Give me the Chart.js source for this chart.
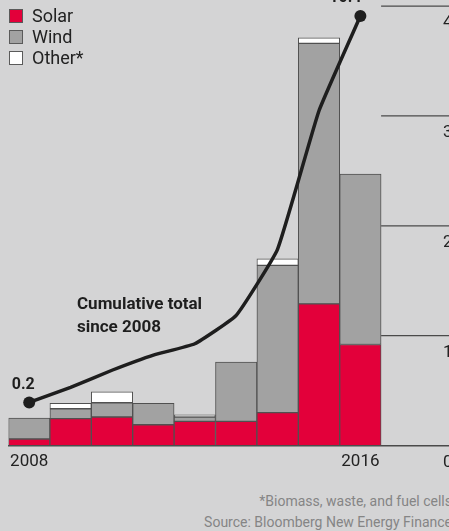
<!DOCTYPE html>
<html>
<head>
<meta charset="utf-8">
<script src="https://cdn.jsdelivr.net/npm/chart.js@4/dist/chart.umd.min.js"></script>
<style>
    html, body {
        margin: 0;
        padding: 0;
        width: 449px;
        height: 531px;
        overflow: hidden;
        background: #d4d4d5;
        font-family: Roboto, 'Liberation Sans', sans-serif;
    }
    #wrap {
        position: absolute;
        left: 0;
        top: 0;
        width: 480px;
        height: 480px;
    }
    #legend {
        position: absolute;
        left: 9px;
        top: 9px;
        font-size: 18px;
        color: #222;
    }
    .item {
        height: 21px;
        display: flex;
        align-items: flex-start;
    }
    .box {
        width: 14px;
        height: 14px;
        box-sizing: border-box;
        border: 1px solid #5a5a5a;
        margin-right: 9px;
    }
    .item span {
        line-height: 14px;
    }
    #notes {
        position: absolute;
        left: 0;
        top: 491px;
        width: 452px;
        text-align: right;
        font-size: 14px;
        line-height: 21px;
        color: #858585;
        white-space: nowrap;
    }
</style>
</head>
<body>
<div id="wrap"><canvas id="chart"></canvas></div>
<div id="legend"></div>
<div id="notes">*Biomass, waste, and fuel cells<br>Source: Bloomberg New Energy Finance</div>

<script>
(function() {
    'use strict';

    // Annual additions per year (bars, right scale)
    const years = ['2008', '2009', '2010', '2011', '2012', '2013', '2014', '2015', '2016'];
    const solar = [0.06, 0.245, 0.26, 0.19, 0.22, 0.22, 0.30, 1.29, 0.92];
    const wind = [0.19, 0.09, 0.13, 0.195, 0.04, 0.54, 1.34, 2.37, 1.55];
    const other = [0, 0.05, 0.10, 0, 0.02, 0, 0.06, 0.05, 0];

    // Running total since 2008 (line, its own hidden scale)
    const cumulative = [0.2, 0.6, 1.05, 1.45, 1.75, 2.5, 4.25, 7.9, 10.4];

    const tickYears = ['2008', '2016'];
    const rightTicks = [0, 1, 2, 3, 4];

    const RED = '#e3003a';
    const GRAY = '#a2a2a2';
    const EDGE = '#505050';
    const INK = '#1e1e1e';
    const FONT = "Roboto, 'Liberation Sans', sans-serif";

    // Two blank slots to the right of the bars hold the scale ladder
    const labels = years.concat(['', '']);

    function barSet(label, data, color) {
        return {
            type: 'bar',
            label: label,
            data: data,
            backgroundColor: color,
            borderColor: EDGE,
            borderWidth: 1,
            borderSkipped: false,
            barPercentage: 1,
            categoryPercentage: 1,
            yAxisID: 'y',
            order: 1
        };
    }

    // Legend built as plain HTML in the top-left corner
    const legend = document.getElementById('legend');
    [['Solar', RED], ['Wind', GRAY], ['Other*', '#ffffff']].forEach(function(entry) {
        const row = document.createElement('div');
        row.className = 'item';
        row.innerHTML = '<div class="box" style="background:' + entry[1] + '"></div><span>' + entry[0] + '</span>';
        legend.appendChild(row);
    });

    // Right-hand gridlines and their numbers, drawn only past the last bar
    const ladderPlugin = {
        id: 'ladder',
        beforeDatasetsDraw(chart) {
            const ctx = chart.ctx;
            const x = chart.scales.x;
            const y = chart.scales.y;
            const left = x.getPixelForValue(years.length - 1) + x.width / labels.length / 2;
            ctx.save();
            ctx.strokeStyle = '#4a4a4a';
            ctx.lineWidth = 1.2;
            ctx.fillStyle = '#222';
            ctx.font = '17px ' + FONT;
            ctx.textAlign = 'left';
            ctx.textBaseline = 'middle';
            rightTicks.forEach(function(t) {
                const py = y.getPixelForValue(t);
                if (t > 0) {
                    ctx.beginPath();
                    ctx.moveTo(left, py);
                    ctx.lineTo(chart.width, py);
                    ctx.stroke();
                }
                ctx.fillText(String(t), 443, py + 17);
            });
            ctx.restore();
        },
        afterDatasetsDraw(chart) {
            const ctx = chart.ctx;
            const meta = chart.getDatasetMeta(3);
            const first = meta.data[0];
            const last = meta.data[meta.data.length - 1];
            ctx.save();
            ctx.fillStyle = INK;
            ctx.textAlign = 'center';
            ctx.textBaseline = 'middle';
            ctx.font = 'bold 16px ' + FONT;
            ctx.fillText(cumulative[0].toFixed(1), first.x - 6, first.y - 17);
            ctx.fillText(cumulative[cumulative.length - 1].toFixed(1), last.x - 15, last.y - 18);
            ctx.textAlign = 'left';
            ctx.textBaseline = 'alphabetic';
            ctx.font = 'bold 17px ' + FONT;
            ctx.fillText('Cumulative total', 77, 309);
            ctx.fillText('since 2008', 77, 332);
            ctx.restore();
        }
    };

    const lastIndex = cumulative.length - 1;

    new Chart(document.getElementById('chart'), {
        data: {
            labels: labels,
            datasets: [
                barSet('Solar', solar, RED),
                barSet('Wind', wind, GRAY),
                barSet('Other*', other, '#ffffff'),
                {
                    type: 'line',
                    label: 'Cumulative total since 2008',
                    data: cumulative,
                    borderColor: INK,
                    borderWidth: 3.5,
                    tension: 0.12,
                    pointRadius: function(c) { return (c.dataIndex === 0 || c.dataIndex === lastIndex) ? 6 : 0; },
                    pointBackgroundColor: INK,
                    pointBorderWidth: 0,
                    yAxisID: 'y2',
                    order: 0,
                    clip: false
                }
            ]
        },
        options: {
            responsive: true,
            maintainAspectRatio: false,
            animation: false,
            layout: {
                autoPadding: false,
                padding: { left: 8.5, right: 16.1, top: 0, bottom: 2 }
            },
            plugins: {
                legend: { display: false },
                tooltip: { enabled: false }
            },
            scales: {
                x: {
                    stacked: true,
                    grid: { display: false, drawTicks: false },
                    border: { display: true, color: '#4a4a4a', width: 1.5 },
                    ticks: {
                        autoSkip: false,
                        maxRotation: 0,
                        padding: 6,
                        color: '#222',
                        font: { family: FONT, size: 17 },
                        callback: function(value) {
                            const lab = labels[value];
                            return tickYears.indexOf(lab) >= 0 ? lab : '';
                        }
                    }
                },
                y: {
                    stacked: true,
                    display: false,
                    min: 0,
                    max: 4.055
                },
                y2: {
                    display: false,
                    min: -0.939,
                    max: 10.824
                }
            }
        },
        plugins: [ladderPlugin]
    });
})();
</script>
</body>
</html>
